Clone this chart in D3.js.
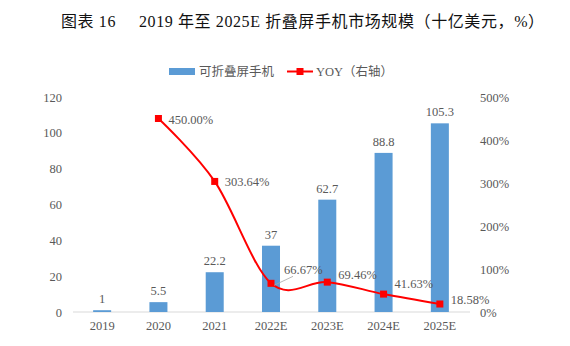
<!DOCTYPE html>
<html><head><meta charset="utf-8">
<script src="https://cdn.jsdelivr.net/npm/d3@7"></script>
<style>body{margin:0;background:#fff}</style>
</head><body>
<svg id="c" width="570" height="346"></svg>
<script>
const categories = ["2019","2020","2021","2022E","2023E","2024E","2025E"];
const marketSize = [1,5.5,22.2,37,62.7,88.8,105.3];
const yoy = [null,450.00,303.64,66.67,69.46,41.63,18.58];
const yoyLabels = ["","450.00%","303.64%","66.67%","69.46%","41.63%","18.58%"];
const leftTicks = [0,20,40,60,80,100,120];
const rightTicks = [0,100,200,300,400,500];

const svg = d3.select("#c");
const serif = "'Liberation Serif','Times New Roman','Noto Sans CJK SC',serif";
const txt = "#595959";

svg.append("text").attr("x",61).attr("y",27).attr("font-family",serif).attr("font-size",16)
  .attr("letter-spacing",0.6).attr("fill","#111").attr("xml:space","preserve")
  .text("图表 16     2019 年至 2025E 折叠屏手机市场规模（十亿美元，%）");

const x = d3.scaleBand().domain(categories).range([74,468]).paddingInner(0.68).paddingOuter(0.34);
const yL = d3.scaleLinear().domain([0,120]).range([312,97]);
const yR = d3.scaleLinear().domain([0,500]).range([312,97]);

svg.append("line").attr("x1",73).attr("x2",470).attr("y1",yL(0)).attr("y2",yL(0)).attr("stroke","#d9d9d9");

const gL = svg.append("g").attr("transform","translate(62,0)")
  .call(d3.axisLeft(yL).tickValues(leftTicks).tickSize(0).tickPadding(0));
gL.select(".domain").remove();
gL.selectAll("text").attr("font-family",serif).attr("font-size",12.5).attr("fill",txt);

const gR = svg.append("g").attr("transform","translate(480,0)")
  .call(d3.axisRight(yR).tickValues(rightTicks).tickSize(0).tickPadding(0).tickFormat(d=>d+"%"));
gR.select(".domain").remove();
gR.selectAll("text").attr("font-family",serif).attr("font-size",12.5).attr("fill",txt);

const gX = svg.append("g").attr("transform",`translate(0,${yL(0)})`)
  .call(d3.axisBottom(x).tickSize(0).tickPadding(9));
gX.select(".domain").remove();
gX.selectAll("text").attr("font-family",serif).attr("font-size",12.5).attr("fill",txt);

svg.selectAll("rect.bar").data(categories).enter().append("rect")
  .attr("x",d=>x(d)).attr("width",x.bandwidth())
  .attr("y",(d,i)=>yL(marketSize[i])).attr("height",(d,i)=>yL(0)-yL(marketSize[i]))
  .attr("fill","#5B9BD5");
svg.selectAll("text.bv").data(categories).enter().append("text")
  .attr("x",d=>x(d)+x.bandwidth()/2).attr("y",(d,i)=>yL(marketSize[i])-7)
  .attr("text-anchor","middle").attr("font-family",serif).attr("font-size",12.5).attr("fill",txt)
  .text((d,i)=>marketSize[i]);

const pts = categories.map((c,i)=>({c,v:yoy[i],i})).filter(d=>d.v!==null);
const cx = d=>x(d.c)+x.bandwidth()/2;
const line = d3.line().x(cx).y(d=>yR(d.v)).curve(d3.curveCardinal.tension(0));
svg.append("path").datum(pts).attr("d",line).attr("fill","none").attr("stroke","#FF0000").attr("stroke-width",2);
svg.selectAll("rect.m").data(pts).enter().append("rect")
  .attr("x",d=>cx(d)-3.5).attr("y",d=>yR(d.v)-3.5).attr("width",7).attr("height",7).attr("fill","#FF0000");

const offs = {1:[10,5],2:[10,5],3:[13,-9],4:[11,-3],5:[11,-6],6:[11,0]};
pts.forEach(d=>{
  const o = offs[d.i];
  if(d.i===3){
    svg.append("line").attr("x1",cx(d)+3).attr("y1",yR(d.v)+2).attr("x2",cx(d)+22).attr("y2",yR(d.v)-7)
      .attr("stroke","#a6a6a6").attr("stroke-width",0.8);
  }
  svg.append("text").attr("x",cx(d)+o[0]).attr("y",yR(d.v)+o[1])
    .attr("font-family",serif).attr("font-size",12.5).attr("fill",txt).text(yoyLabels[d.i]);
});

svg.append("rect").attr("x",169).attr("y",68).attr("width",26).attr("height",7).attr("fill","#5B9BD5");
svg.append("text").attr("x",199).attr("y",76).attr("font-family",serif).attr("font-size",12.5).attr("fill",txt).text("可折叠屏手机");
svg.append("line").attr("x1",287).attr("x2",313).attr("y1",71.5).attr("y2",71.5).attr("stroke","#FF0000").attr("stroke-width",2);
svg.append("rect").attr("x",296.5).attr("y",68).attr("width",7).attr("height",7).attr("fill","#FF0000");
svg.append("text").attr("x",316).attr("y",76).attr("font-family",serif).attr("font-size",12.5).attr("fill",txt).text("YOY（右轴）");
</script>
</body></html>
